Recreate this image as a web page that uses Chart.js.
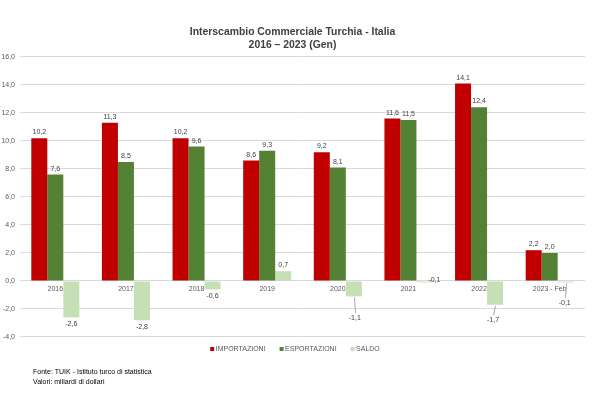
<!DOCTYPE html>
<html lang="it">
<head>
<meta charset="utf-8">
<title>Interscambio Commerciale Turchia - Italia</title>
<script src="https://cdn.jsdelivr.net/npm/chart.js@4.4.0/dist/chart.umd.min.js"></script>
<style>
    html, body { margin: 0; padding: 0; background: #ffffff; }
    canvas { display: block; }
</style>
</head>
<body>
<canvas id="interscambioChart" width="592" height="394"></canvas>
<script>
// Dati (miliardi di dollari)
const anni = ['2016', '2017', '2018', '2019', '2020', '2021', '2022', '2023 - Feb'];
const importazioni = [10.2, 11.3, 10.2, 8.6, 9.2, 11.6, 14.1, 2.2];
const esportazioni = [7.6, 8.5, 9.6, 9.3, 8.1, 11.5, 12.4, 2.0];
const saldo = [-2.6, -2.8, -0.6, 0.7, -1.1, -0.1, -1.7, -0.1];
const valoriAsseY = [-4, -2, 0, 2, 4, 6, 8, 10, 12, 14, 16];

const FONT = '"Liberation Sans", Arial, sans-serif';

function formatta(v) {
    return v.toFixed(1).replace('.', ',');
}

// Etichette dei valori sopra / sotto le barre
const etichetteValori = {
    id: 'etichetteValori',
    afterDatasetsDraw(chart, args, opts) {
        const ctx = chart.ctx;
        ctx.save();
        ctx.font = '7px ' + FONT;
        ctx.fillStyle = '#404040';
        ctx.strokeStyle = '#a6a6a6';
        ctx.lineWidth = 1;
        ctx.textAlign = 'center';
        ctx.textBaseline = 'middle';
        chart.data.datasets.forEach((ds, di) => {
            const meta = chart.getDatasetMeta(di);
            meta.data.forEach((bar, i) => {
                const v = ds.data[i];
                let x = bar.x;
                let y = v >= 0 ? bar.y - 6 : bar.y + 6.5;
                const sposta = di === 2 ? opts.spostamenti[i] : null;
                if (sposta) {
                    const nx = x + sposta[0];
                    const ny = y + sposta[1];
                    if (sposta[2]) {
                        ctx.beginPath();
                        ctx.moveTo(Math.round(x) + 0.5, bar.y + 1);
                        ctx.lineTo(Math.round(nx) + 0.5, ny - 5);
                        ctx.stroke();
                    }
                    x = nx;
                    y = ny;
                }
                ctx.fillText(formatta(v), x, y);
            });
        });
        ctx.restore();
    }
};

// Legenda e note in basso
const legendaENote = {
    id: 'legendaENote',
    afterDraw(chart) {
        const ctx = chart.ctx;
        ctx.save();
        ctx.font = '7px ' + FONT;
        ctx.textBaseline = 'middle';
        ctx.textAlign = 'left';
        const ds = chart.data.datasets;
        const gap = 14;
        const larghezze = ds.map(d => 5.5 + ctx.measureText(d.label).width);
        const totale = larghezze.reduce((a, b) => a + b, 0) + gap * (ds.length - 1);
        let x = 295 - totale / 2;
        const y = 349;
        ds.forEach((d, i) => {
            ctx.fillStyle = d.backgroundColor;
            ctx.fillRect(x, y - 2, 4, 4);
            ctx.fillStyle = '#595959';
            ctx.fillText(d.label, x + 5.5, y);
            x += larghezze[i] + gap;
        });

        ctx.fillStyle = '#000000';
        ctx.fillText('Fonte: TUIK - Istituto turco di statistica', 33, 372);
        ctx.fillText('Valori: miliardi di dollari', 33, 382);
        ctx.restore();
    }
};

new Chart(document.getElementById('interscambioChart'), {
    type: 'bar',
    data: {
        labels: anni,
        datasets: [
            { label: 'IMPORTAZIONI', data: importazioni, backgroundColor: '#C00000' },
            { label: 'ESPORTAZIONI', data: esportazioni, backgroundColor: '#548235' },
            { label: 'SALDO', data: saldo, backgroundColor: '#C5E0B4' }
        ]
    },
    options: {
        responsive: false,
        animation: false,
        layout: {
            padding: { top: 0, left: 0, right: 7, bottom: 57 }
        },
        datasets: {
            bar: {
                categoryPercentage: 0.68,
                barPercentage: 1.0,
                borderWidth: 0
            }
        },
        plugins: {
            legend: { display: false },
            tooltip: { enabled: false },
            title: {
                display: true,
                text: ['Interscambio Commerciale Turchia - Italia', '2016 \u2013 2023 (Gen)'],
                color: '#404040',
                font: { family: FONT, size: 10.4, weight: 'bold' },
                padding: { top: 26, bottom: 6 }
            },
            etichetteValori: {
                // [dx, dy, linea guida] per le etichette del saldo spostate a mano
                spostamenti: {
                    4: [1, 15, true],
                    5: [10, -8.6, false],
                    6: [-2, 9, true],
                    7: [-1, 14, true]
                }
            }
        },
        scales: {
            x: {
                axis: 'x',
                position: { y: 0 },
                grid: { display: false, drawTicks: false },
                border: { display: false },
                ticks: {
                    color: '#595959',
                    font: { family: FONT, size: 7 },
                    padding: 4,
                    maxRotation: 0,
                    autoSkip: false
                },
                afterFit(scale) { scale.height = 0; }
            },
            y: {
                min: valoriAsseY[0],
                max: valoriAsseY[valoriAsseY.length - 1],
                afterBuildTicks(scale) {
                    scale.ticks = valoriAsseY.map(v => ({ value: v }));
                },
                grid: { color: '#D9D9D9', lineWidth: 1, drawTicks: false },
                border: { display: false },
                ticks: {
                    color: '#595959',
                    font: { family: FONT, size: 7 },
                    padding: 5,
                    callback: function (value) {
                        return formatta(value);
                    }
                },
                afterFit(scale) { scale.width = 20; }
            }
        }
    },
    plugins: [etichetteValori, legendaENote]
});
</script>
</body>
</html>
